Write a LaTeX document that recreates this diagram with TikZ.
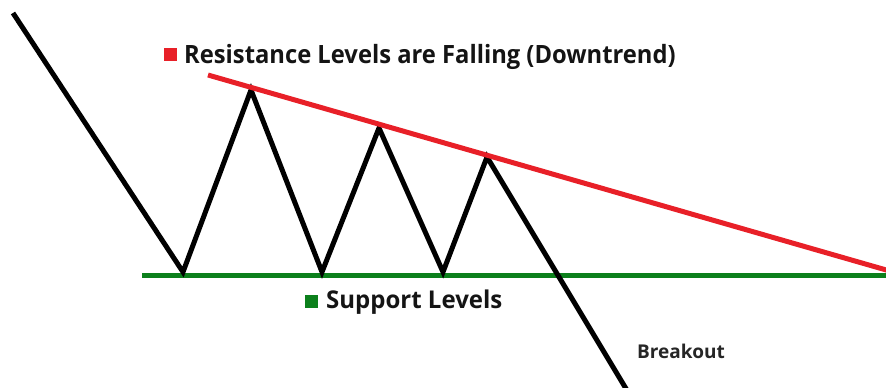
\documentclass[tikz,border=0pt]{standalone}
\usepackage{fontspec}
\setmainfont{Open Sans}
\definecolor{resred}{RGB}{232,32,40}
\definecolor{supgreen}{RGB}{12,128,28}
\definecolor{txt}{RGB}{20,20,20}
\begin{document}
\begin{tikzpicture}[x=1pt,y=-1pt,
  price/.style={line width=5pt,black,line join=miter},
  resline/.style={line width=5pt,resred},
  supline/.style={line width=5pt,supgreen},
  lbl/.style={inner sep=0pt,anchor=base west,text=txt,font=\bfseries},
  sq/.style={inner sep=0pt,minimum width=13pt,minimum height=13pt}]
\useasboundingbox (0,0) rectangle (886,388);
% lines
\coordinate (p0) at (13,13);
\coordinate (p1) at (183,272);
\coordinate (p2) at (251,90);
\coordinate (p3) at (322,272);
\coordinate (p4) at (379,128);
\coordinate (p5) at (443,272);
\coordinate (p6) at (487,157);
\coordinate (p7) at (628,392);
\coordinate (r0) at (208,75);
\coordinate (r1) at (888,270.5);
\coordinate (s0) at (142,275);
\coordinate (s1) at (888,275);
\draw[supline] (s0) -- (s1);
\draw[price] (p0) -- (p1) -- (p2) -- (p3) -- (p4) -- (p5) -- (p6) -- (p7);
\draw[resline] (r0) -- (r1);
% labels
\node[sq,fill=resred] (rsq) at (170.5,54.5) {};
\node[lbl,font=\bfseries\fontsize{24}{28}\selectfont] (rt) at (184,63) {\scalebox{0.99}[1.05]{Resistance Levels are Falling (Downtrend)}};
\node[sq,fill=supgreen] (gsq) at (311.5,301.5) {};
\node[lbl,font=\bfseries\fontsize{24}{28}\selectfont] (st) at (326,308) {\scalebox{1}[1.02]{Support Levels}};
\node[lbl,font=\bfseries\fontsize{19}{22}\selectfont,text=black!85] (bt) at (637,358) {Breakout};
\end{tikzpicture}
\end{document}
